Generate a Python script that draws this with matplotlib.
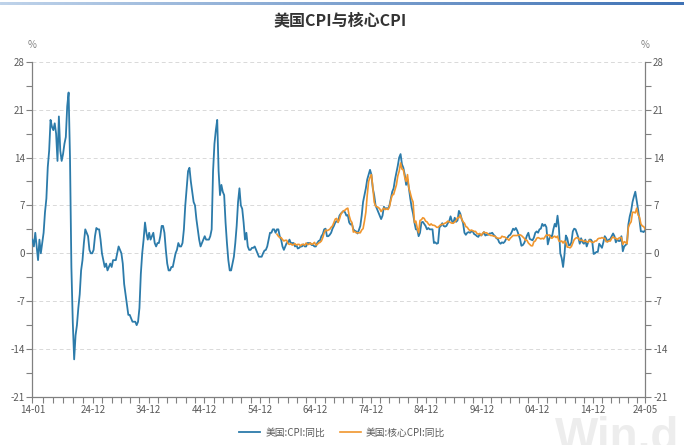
import numpy as np
import matplotlib
matplotlib.use("Agg")
import matplotlib.pyplot as plt
from matplotlib.ticker import FixedLocator, NullFormatter

plt.rcParams['font.family'] = ['Noto Sans CJK SC', 'DejaVu Sans']
plt.rcParams['axes.unicode_minus'] = False

# US CPI YoY (%), quarterly readings (Jan/Apr/Jul/Oct) from 1914-01, last value 2024-05
cpi = [
    2.0, 1.0, 3.0, 1.0,      # 1914
    -1.0, 2.0, 0.0, 1.5,     # 1915
    3.0, 6.0, 8.0, 12.6,     # 1916
    15.0, 19.5, 18.5, 18.0,  # 1917
    19.0, 17.5, 13.5, 20.0,  # 1918
    15.0, 13.5, 14.5, 16.0,  # 1919
    17.0, 21.5, 23.5, 14.0,  # 1920
    -2.0, -10.0, -15.5, -12.0,  # 1921
    -10.5, -8.0, -6.0, -2.5,  # 1922
    -1.0, 1.5, 3.5, 3.0,     # 1923
    2.5, 0.5, 0.0, 0.0,      # 1924
    0.5, 2.5, 3.7, 3.5,      # 1925
    3.5, 2.0, 0.0, -1.0,     # 1926
    -2.0, -1.5, -2.5, -2.0,  # 1927
    -1.5, -2.0, -1.0, -1.0,  # 1928
    -1.0, 0.0, 1.0, 0.5,     # 1929
    0.0, -1.5, -4.5, -6.0,   # 1930
    -7.5, -9.0, -9.0, -9.5,  # 1931
    -10.0, -10.0, -10.0, -10.5,  # 1932
    -10.0, -8.0, -3.0, 0.0,  # 1933
    2.0, 4.5, 3.0, 2.0,      # 1934
    3.0, 2.0, 2.5, 3.0,      # 1935
    1.5, 1.0, 1.5, 1.5,      # 1936
    2.5, 4.0, 4.0, 3.0,      # 1937
    0.5, -1.5, -2.5, -2.5,   # 1938
    -2.0, -2.0, -1.0, 0.0,   # 1939
    0.5, 1.5, 1.0, 1.0,      # 1940
    1.5, 3.5, 7.0, 9.5,      # 1941
    12.0, 12.5, 10.5, 9.0,   # 1942
    7.5, 7.0, 5.0, 3.5,      # 1943
    2.0, 1.0, 1.5, 2.0,      # 1944
    2.5, 2.0, 2.0, 2.0,      # 1945
    2.5, 3.5, 12.0, 16.0,    # 1946
    18.0, 19.5, 12.0, 8.5,   # 1947
    10.0, 9.0, 8.5, 4.5,     # 1948
    1.5, -1.0, -2.5, -2.5,   # 1949
    -1.5, -0.5, 1.5, 4.0,    # 1950
    7.5, 9.5, 7.0, 6.5,      # 1951
    4.5, 2.0, 3.0, 1.0,      # 1952
    0.5, 0.5, 0.8, 0.8,      # 1953
    1.0, 0.5, 0.0, -0.5,     # 1954
    -0.5, -0.5, 0.0, 0.4,    # 1955
    0.5, 1.0, 2.0, 3.0,      # 1956
    3.0, 3.5, 3.5, 3.0,      # 1957
    3.5, 3.5, 2.5, 2.0,      # 1958
    1.0, 0.5, 1.0, 1.5,      # 1959
    1.5, 2.0, 1.5, 1.5,      # 1960
    1.5, 1.0, 1.2, 0.7,      # 1961
    0.8, 1.0, 1.0, 1.3,      # 1962
    1.0, 1.0, 1.5, 1.5,      # 1963
    1.5, 1.2, 1.2, 1.0,      # 1964
    1.0, 1.5, 1.8, 1.9,      # 1965
    2.5, 2.8, 3.5, 3.6,      # 1966
    2.5, 2.5, 2.7, 3.0,      # 1967
    3.6, 4.0, 4.5, 4.7,      # 1968
    4.6, 5.5, 5.8, 6.0,      # 1969
    6.2, 6.0, 5.5, 5.6,      # 1970
    4.5, 4.2, 4.3, 3.5,      # 1971
    3.3, 3.2, 2.9, 3.4,      # 1972
    4.0, 5.5, 7.5, 8.5,      # 1973
    9.5, 10.8, 11.5, 12.2,   # 1974
    11.5, 9.5, 8.5, 7.0,     # 1975
    6.5, 6.0, 5.5, 5.0,      # 1976
    5.5, 6.8, 6.5, 6.6,      # 1977
    6.5, 7.0, 8.0, 9.0,      # 1978
    9.5, 10.8, 11.8, 12.8,   # 1979
    14.0, 14.5, 13.0, 12.5,  # 1980
    11.5, 10.0, 10.8, 9.5,   # 1981
    8.0, 6.7, 5.8, 4.5,      # 1982
    3.5, 3.5, 2.5, 3.0,      # 1983
    4.5, 4.6, 4.3, 4.0,      # 1984
    3.5, 3.7, 3.5, 3.5,      # 1985
    3.5, 1.5, 1.6, 1.4,      # 1986
    1.5, 3.8, 4.0, 4.4,      # 1987
    4.0, 3.9, 4.0, 4.4,      # 1988
    4.7, 5.4, 4.7, 4.5,      # 1989
    5.2, 4.6, 4.8, 6.2,      # 1990
    5.8, 5.0, 4.4, 3.0,      # 1991
    2.7, 3.0, 3.1, 3.0,      # 1992
    3.2, 3.2, 2.8, 2.7,      # 1993
    2.5, 2.4, 2.8, 2.6,      # 1994
    2.8, 3.1, 2.6, 2.7,      # 1995
    2.7, 2.9, 2.9, 3.0,      # 1996
    2.7, 2.5, 2.2, 2.1,      # 1997
    1.6, 1.4, 1.6, 1.5,      # 1998
    1.7, 2.1, 2.3, 2.6,      # 1999
    2.7, 3.1, 3.6, 3.4,      # 2000
    3.7, 3.3, 2.7, 2.1,      # 2001
    1.1, 1.2, 1.5, 2.0,      # 2002
    2.6, 3.0, 2.1, 2.0,      # 2003
    1.9, 2.3, 3.0, 3.2,      # 2004
    3.0, 3.5, 3.6, 4.3,      # 2005
    4.0, 4.2, 3.8, 1.3,      # 2006
    2.1, 2.6, 2.4, 3.5,      # 2007
    4.3, 3.9, 5.5, 3.7,      # 2008
    0.0, -0.7, -2.0, -0.2,   # 2009
    2.6, 2.2, 1.2, 1.2,      # 2010
    1.6, 3.2, 3.6, 3.5,      # 2011
    2.9, 2.3, 1.4, 2.2,      # 2012
    1.6, 1.4, 2.0, 1.0,      # 2013
    1.6, 2.0, 2.0, 1.7,      # 2014
    -0.1, 0.0, 0.2, 0.2,     # 2015
    1.4, 1.1, 0.8, 1.6,      # 2016
    2.5, 2.2, 1.7, 2.0,      # 2017
    2.1, 2.5, 2.9, 2.5,      # 2018
    1.6, 2.0, 1.8, 1.8,      # 2019
    2.5, 0.3, 1.0, 1.2,      # 2020
    1.4, 4.2, 5.4, 6.2,      # 2021
    7.5, 8.3, 9.0, 7.7,      # 2022
    6.4, 4.9, 3.2, 3.2,      # 2023
    3.1, 3.4, 3.3,           # 2024 (Jan, Apr, May)
]

# US core CPI YoY (%), quarterly readings from 1958-01, last value 2024-05
core = [
    2.8, 2.5, 2.3, 2.3,      # 1958
    2.0, 1.8, 1.9, 1.9,      # 1959
    1.4, 1.3, 1.4, 1.2,      # 1960
    1.3, 1.4, 1.2, 1.3,      # 1961
    1.3, 1.1, 1.3, 1.3,      # 1962
    1.2, 1.5, 1.3, 1.3,      # 1963
    1.5, 1.3, 1.4, 1.6,      # 1964
    1.2, 1.3, 1.5, 1.6,      # 1965
    1.8, 2.3, 3.0, 3.4,      # 1966
    3.3, 3.4, 3.5, 3.8,      # 1967
    4.0, 4.5, 5.0, 5.1,      # 1968
    4.5, 5.0, 5.7, 6.0,      # 1969
    6.2, 6.3, 6.5, 6.6,      # 1970
    5.5, 4.8, 4.5, 3.1,      # 1971
    3.2, 3.0, 3.0, 3.0,      # 1972
    3.0, 3.4, 3.6, 4.7,      # 1973
    6.0, 8.5, 10.5, 11.1,    # 1974
    11.5, 9.7, 7.5, 6.9,     # 1975
    6.8, 6.7, 6.5, 6.1,      # 1976
    6.4, 6.6, 6.4, 6.5,      # 1977
    6.4, 6.8, 7.8, 8.5,      # 1978
    8.6, 9.3, 10.0, 11.3,    # 1979
    12.0, 13.2, 12.3, 12.2,  # 1980
    11.1, 10.5, 11.5, 9.5,   # 1981
    8.8, 8.0, 7.5, 4.5,      # 1982
    4.7, 3.7, 3.0, 4.8,      # 1983
    4.9, 5.2, 5.1, 4.7,      # 1984
    4.6, 4.3, 4.1, 4.3,      # 1985
    4.1, 4.1, 4.0, 3.8,      # 1986
    3.8, 4.0, 4.2, 4.2,      # 1987
    4.3, 4.4, 4.5, 4.7,      # 1988
    4.6, 4.5, 4.4, 4.4,      # 1989
    4.6, 4.8, 5.2, 5.2,      # 1990
    5.6, 5.0, 4.6, 4.4,      # 1991
    3.9, 3.8, 3.5, 3.3,      # 1992
    3.4, 3.3, 3.2, 3.2,      # 1993
    2.9, 2.8, 2.9, 2.6,      # 1994
    2.9, 3.1, 3.0, 3.0,      # 1995
    2.8, 2.7, 2.6, 2.6,      # 1996
    2.5, 2.5, 2.3, 2.2,      # 1997
    2.2, 2.2, 2.5, 2.4,      # 1998
    2.4, 2.2, 2.1, 1.9,      # 1999
    2.2, 2.4, 2.6, 2.6,      # 2000
    2.6, 2.6, 2.7, 2.7,      # 2001
    2.6, 2.4, 2.2, 1.9,      # 2002
    1.9, 1.5, 1.3, 1.1,      # 2003
    1.1, 1.7, 1.8, 2.2,      # 2004
    2.3, 2.2, 2.1, 2.2,      # 2005
    2.1, 2.4, 2.7, 2.6,      # 2006
    2.7, 2.3, 2.2, 2.4,      # 2007
    2.5, 2.3, 2.5, 1.8,      # 2008
    1.7, 1.8, 1.5, 1.8,      # 2009
    1.6, 0.9, 0.9, 0.8,      # 2010
    1.0, 1.5, 2.0, 2.2,      # 2011
    2.3, 2.2, 1.9, 1.9,      # 2012
    1.9, 1.7, 1.8, 1.7,      # 2013
    1.6, 1.9, 1.7, 1.6,      # 2014
    1.6, 1.8, 1.8, 2.1,      # 2015
    2.2, 2.2, 2.3, 2.2,      # 2016
    2.2, 1.7, 1.7, 1.8,      # 2017
    1.8, 2.2, 2.4, 2.2,      # 2018
    2.2, 2.0, 2.2, 2.3,      # 2019
    2.3, 1.3, 1.7, 1.6,      # 2020
    1.4, 3.8, 4.3, 4.6,      # 2021
    6.0, 6.0, 5.9, 6.6,      # 2022
    5.6, 5.3, 4.3, 4.0,      # 2023
    3.9, 3.6, 3.4,           # 2024 (Jan, Apr, May)
]

series_names = ['美国:CPI:同比', '美国:核心CPI:同比']
x_tick_labels = ['14-01', '24-12', '34-12', '44-12', '54-12', '64-12',
                 '74-12', '84-12', '94-12', '04-12', '14-12', '24-05']
y_ticks = [-21, -14, -7, 0, 7, 14, 21, 28]

# month offsets counted from 1914-01
end_month = 110 * 12 + 4
cpi_m = list(range(0, end_month, 3)) + [end_month]
core_m = list(range(44 * 12, end_month, 3)) + [end_month]
assert len(cpi_m) == len(cpi) and len(core_m) == len(core)

def to_x(m):
    return 1914 + np.asarray(m) / 12.0

fig = plt.figure(figsize=(6.84, 4.45), dpi=100)

# watermark sits behind the axes
fig.text(0.812, -0.012, 'Win.d', ha='left', va='baseline', fontsize=33,
         fontweight='bold', color='#EDEDED', zorder=-5,
         family=['Liberation Sans', 'DejaVu Sans'])

ax = fig.add_axes([0.0475, 0.1079, 0.8962, 0.7534])
ax.patch.set_alpha(0)

blue = '#2C7BAA'
orange = '#F0962E'
ax.plot(to_x(cpi_m), cpi, color=blue, lw=1.3, label=series_names[0], zorder=3)
ax.plot(to_x(core_m), core, color=orange, lw=1.2, label=series_names[1], zorder=4)

ax.set_xlim(to_x(0), to_x(end_month))
ax.set_ylim(-21, 28)

# x ticks: start, every December of the x4 years, last month
major_m = [0] + [(10 * k + 10) * 12 + 11 for k in range(10)] + [end_month]
ax.set_xticks(to_x(major_m))
ax.set_xticklabels(x_tick_labels)
minor_m = []
for a, b in zip(major_m[:-1], major_m[1:]):
    minor_m += [a + (b - a) * j / 6 for j in range(1, 6)]
ax.xaxis.set_minor_locator(FixedLocator(to_x(minor_m)))
ax.xaxis.set_minor_formatter(NullFormatter())

ax.set_yticks(y_ticks)
ax.yaxis.set_minor_locator(FixedLocator(np.arange(-17.5, 28, 7)))
ax.tick_params(axis='both', which='major', length=4, width=0.8, color='#808080',
               labelsize=7, labelcolor='#595959', pad=1.5)
ax.tick_params(axis='both', which='minor', length=4, width=0.8, color='#808080')
ax.tick_params(axis='y', which='both', left=True, right=True, labelleft=True, labelright=True)

for side in ['left', 'right', 'bottom']:
    ax.spines[side].set_color('#808080')
    ax.spines[side].set_linewidth(0.9)
ax.spines['top'].set_visible(False)

for v in y_ticks[1:]:
    ax.axhline(v, color='#D9D9D9', lw=0.7, ls=(0, (4, 3)), zorder=1)

ax.text(0, 1.035, '%', transform=ax.transAxes, ha='center', va='bottom',
        fontsize=7, color='#808080')
ax.text(1, 1.035, '%', transform=ax.transAxes, ha='center', va='bottom',
        fontsize=7, color='#808080')

fig.text(0.497, 0.955, '美国CPI与核心CPI', ha='center', va='center',
         fontsize=11.5, fontweight='bold', color='#333333')

# thin gradient bar across the top
bar = fig.add_axes([0, 0.988, 1, 0.007])
grad = np.linspace(0, 1, 256).reshape(1, -1)
bar.imshow(grad, aspect='auto', cmap=matplotlib.colors.LinearSegmentedColormap.from_list(
    'topbar', ['#BFD3EA', '#3F72B5']))
bar.set_axis_off()

fig.legend(loc='center', bbox_to_anchor=(0.5, 0.028), ncol=2, frameon=False,
           fontsize=7, handlelength=2.2, handletextpad=0.5, columnspacing=1.5,
           labelcolor='#595959')

fig.savefig('out.png', dpi=100, facecolor='white')
